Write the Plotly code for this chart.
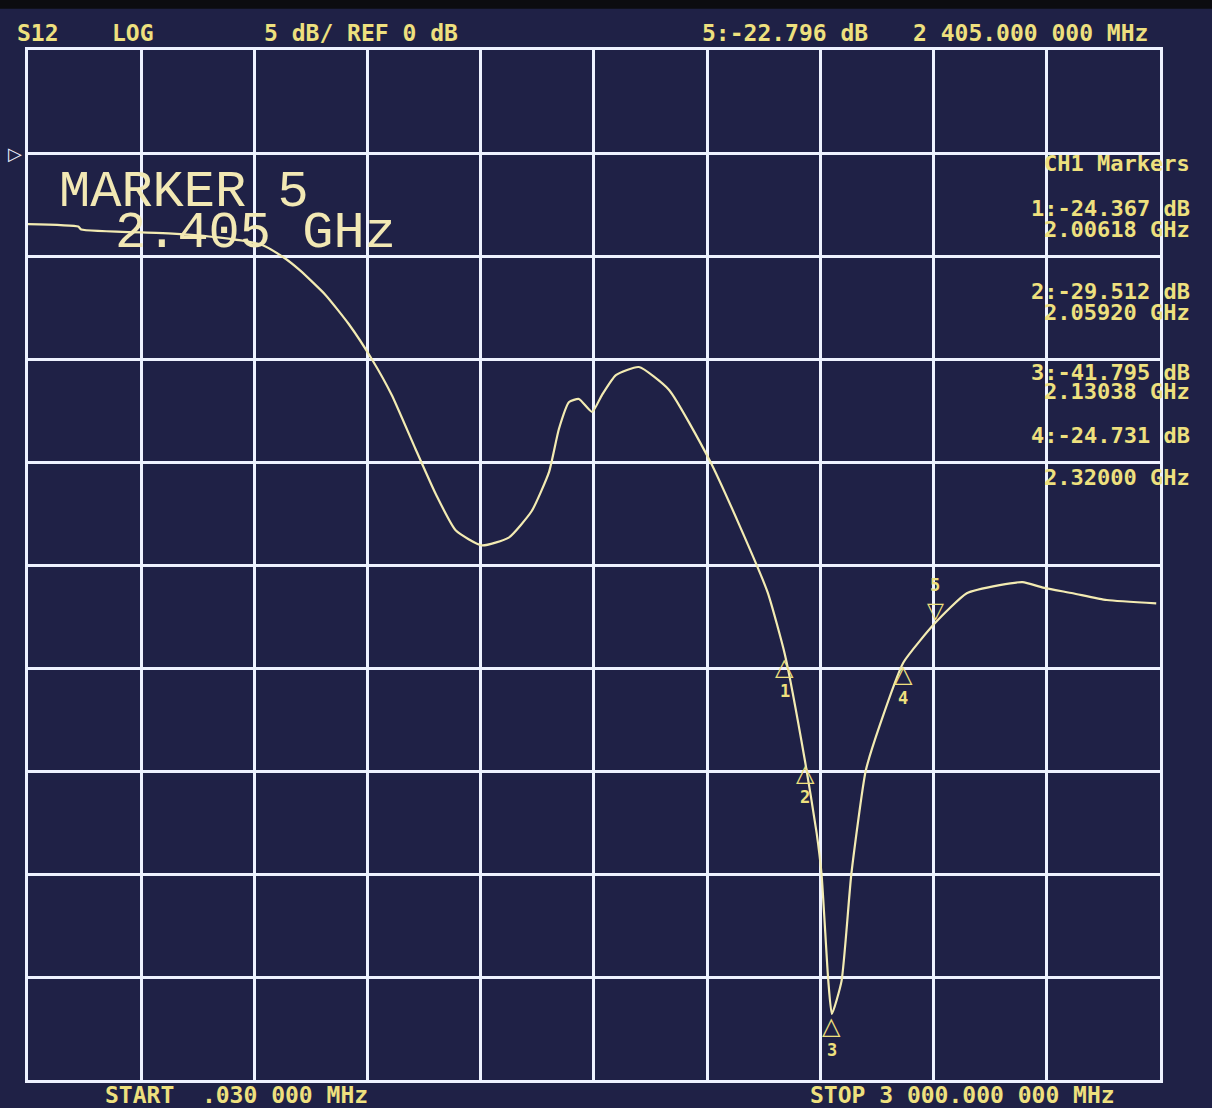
import plotly.graph_objects as go

freq_mhz = [0.03, 133, 141, 372, 504, 619, 676, 721, 789, 850, 911, 964, 1027, 1081,
            1134, 1203, 1274, 1335, 1381, 1407, 1434, 1460, 1495, 1521, 1558, 1619, 1699,
            1806, 1885, 1960, 2006.18, 2059.2, 2090, 2103, 2121, 2130.38, 2156, 2182,
            2220, 2257, 2320, 2405, 2488, 2575, 2636, 2690, 2769, 2859, 2990]
s12_db = [-3.45, -3.57, -3.71, -3.9, -4.1, -4.45, -5.05, -5.7, -6.9, -8.3, -10.0,
          -11.75, -14.37, -16.57, -18.33, -19.05, -18.67, -17.38, -15.48, -13.4, -12.09,
          -11.94, -12.57, -11.75, -10.78, -10.39, -11.5, -14.9, -18.05, -21.32, -24.367,
          -29.512, -33.0, -35.0, -40.2, -41.795, -40.2, -35.0, -30.0, -27.8, -24.731,
          -22.796, -21.37, -20.98, -20.83, -21.1, -21.37, -21.7, -21.86]

marker_ids = [1, 2, 3, 4]
marker_ghz = [2.00618, 2.05920, 2.13038, 2.32000]
marker_db = [-24.367, -29.512, -41.795, -24.731]
active_id = 5
active_ghz = 2.405
active_db = -22.796

START_MHZ = 0.03
STOP_MHZ = 3000.0
SCALE_DB = 5
REF_DB = 0
TOP_DB = 5
BOTTOM_DB = -45

# ---- styling ----
BG = "#1f2146"
GRID = "#eef2ff"
TRACE = "#f3ebb2"
TXT = "#eee07e"
MONO = "DejaVu Sans Mono"

fig = go.Figure()
fig.add_trace(go.Scatter(x=freq_mhz, y=s12_db, mode="lines",
                         line=dict(color=TRACE, width=2.2, shape="spline", smoothing=0.5),
                         hoverinfo="skip"))

ann = []
def txt(x, y, s, anchor="left", size=23, color=TXT, family=MONO, bold=True,
        xref="paper", yref="paper", yanchor="middle"):
    ann.append(dict(x=x, y=y, xref=xref, yref=yref, text=(f"<b>{s}</b>" if bold else s),
                    showarrow=False, xanchor=anchor, yanchor=yanchor,
                    font=dict(family=family, size=size, color=color)))

# header
HY = 1.0165
txt(-0.0115, HY, "S12")
txt(0.0724, HY, "LOG")
txt(0.2067, HY, f"{SCALE_DB} dB/ REF {REF_DB} dB")
txt(0.5936, HY, f"{active_id}:{active_db:.3f} dB")
txt(0.9912, HY, "2 405.000 000 MHz", anchor="right")

# footer
txt(0.066, -0.0146, "START  .030 000 MHz")
txt(0.962, -0.0146, "STOP 3 000.000 000 MHz", anchor="right")

# marker table
txt(1.028, 0.890, "CH1 Markers", anchor="right", size=22)
row_y = [(0.8466, 0.826), (0.766, 0.7456), (0.687, 0.668), (0.626, 0.5854)]
for mid, g, d, (y1, y2) in zip(marker_ids, marker_ghz, marker_db, row_y):
    txt(1.028, y1, f"{mid}:{d:.3f} dB", anchor="right", size=22)
    txt(1.028, y2, f"{g:.5f} GHz", anchor="right", size=22)

# big marker readout
txt(0.0256, 0.862, f"MARKER {active_id}", size=52, color="#f2e8b4", family="Liberation Mono", bold=False)
txt(0.0751, 0.8214, f"{active_ghz:.3f} GHz", size=52, color="#f2e8b4", family="Liberation Mono", bold=False)

# markers on trace
for mid, g, d in zip(marker_ids, marker_ghz, marker_db):
    ann.append(dict(x=g * 1000, y=d, xref="x", yref="y", text="<b>△</b>", showarrow=False,
                    xanchor="center", yanchor="top", yshift=4,
                    font=dict(family="DejaVu Sans", size=24, color=TXT)))
    ann.append(dict(x=g * 1000, y=d, xref="x", yref="y", text=f"<b>{mid}</b>", showarrow=False,
                    xanchor="center", yanchor="top", yshift=-24,
                    font=dict(family=MONO, size=17, color=TXT)))
ann.append(dict(x=active_ghz * 1000, y=active_db, xref="x", yref="y", text="<b>▽</b>",
                showarrow=False, xanchor="center", yanchor="bottom", yshift=-2,
                font=dict(family="DejaVu Sans", size=22, color=TXT)))
ann.append(dict(x=active_ghz * 1000, y=active_db, xref="x", yref="y", text=f"<b>{active_id}</b>",
                showarrow=False, xanchor="center", yanchor="bottom", yshift=26,
                font=dict(family=MONO, size=17, color=TXT)))

# reference level pointer
ann.append(dict(x=0, y=REF_DB, xref="paper", yref="y", text="▷", showarrow=False,
                xanchor="right", yanchor="middle", xshift=-4,
                font=dict(family="DejaVu Sans", size=18, color=GRID)))

fig.update_layout(
    width=1212, height=1108,
    margin=dict(l=28, r=52, t=50, b=28),
    paper_bgcolor=BG, plot_bgcolor=BG,
    showlegend=False,
    annotations=ann,
    shapes=[dict(type="rect", xref="paper", yref="paper", x0=-0.03, x1=1.05,
                 y0=1.040, y1=1.05, fillcolor="#0c0c10", line=dict(width=0), layer="below")],
    xaxis=dict(range=[START_MHZ, STOP_MHZ], tick0=0, dtick=(STOP_MHZ - 0) / 10,
               showgrid=True, gridcolor=GRID, gridwidth=3, showticklabels=False,
               zeroline=False, showline=True, linecolor=GRID, linewidth=3, mirror=True, ticks=""),
    yaxis=dict(range=[BOTTOM_DB, TOP_DB], tick0=0, dtick=SCALE_DB,
               showgrid=True, gridcolor=GRID, gridwidth=3, showticklabels=False,
               zeroline=False, showline=True, linecolor=GRID, linewidth=3, mirror=True, ticks=""),
)

fig.write_html(
    "out.html",
    config={"displayModeBar": False},
    post_script="document.body.style.margin='0';document.body.style.background='#101018';"
                "document.body.style.overflow='hidden';",
)
